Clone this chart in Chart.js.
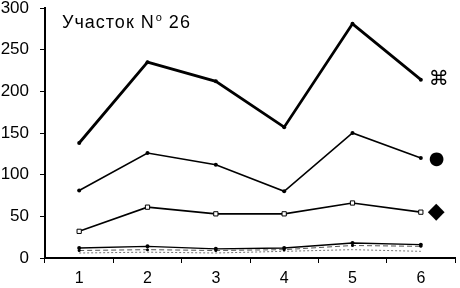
<!DOCTYPE html>
<html><head><meta charset="utf-8">
<script src="https://cdn.jsdelivr.net/npm/chart.js@4/dist/chart.umd.min.js"></script>
<style>html,body{margin:0;padding:0;background:#fff}#wrap{width:460px;height:288px}</style>
</head><body><div id="wrap"><canvas id="c" width="460" height="288"></canvas></div>
<script>
const categories = ['1','2','3','4','5','6'];
const yTicks = [0,50,100,150,200,250,300];
const series1 = [138,235,212,157,281,214];
const series2 = [81,126,112,80,150,120];
const series3 = [32,61,53,53,66,55];
const series4 = [12,14,11,12,18,16];
const series5 = [9,10,9,10,15,14];
const series6 = [6,7,6,8,10,8];
const endMarks = ['⌘','●','◆'];
const titleMain = 'Участок N';
const titleSup = 'o';
const titleNum = ' 26';

const endPlugin = {
  id:'endPlugin',
  afterDatasetsDraw(chart){
    const ctx = chart.ctx, xs = chart.scales.x, ys = chart.scales.y;
    ctx.save();
    ctx.fillStyle = '#000';
    ctx.textBaseline = 'middle';
    ctx.textAlign = 'left';
    const x = xs.getPixelForValue(5) + 8;
    ctx.font = '20px "DejaVu Sans"';
    ctx.fillText(endMarks[0], x, ys.getPixelForValue(series1[5]));
    ctx.font = '18px "DejaVu Sans"';
    ctx.fillText(endMarks[1], x, ys.getPixelForValue(series2[5]) + 1);
    ctx.font = '22px "DejaVu Sans"';
    ctx.fillText(endMarks[2], x - 1, ys.getPixelForValue(series3[5]));
    ctx.textBaseline = 'alphabetic';
    ctx.font = '18px "Liberation Sans"';
    ctx.letterSpacing = '1px';
    let tx = chart.chartArea.left + 17, ty = 28;
    ctx.fillText(titleMain, tx, ty);
    tx += ctx.measureText(titleMain).width;
    ctx.font = '11px "Liberation Sans"';
    ctx.fillText(titleSup, tx + 1, ty - 7);
    tx += ctx.measureText(titleSup).width + 1;
    ctx.font = '18px "Liberation Sans"';
    ctx.fillText(titleNum, tx, ty);
    ctx.restore();
  }
};

new Chart(document.getElementById('c'), {
  type:'line',
  data:{labels:categories, datasets:[
    {data:series1, borderColor:'#000', borderWidth:2.8, pointRadius:2, pointBackgroundColor:'#000', pointBorderWidth:0},
    {data:series2, borderColor:'#000', borderWidth:1.6, pointRadius:2, pointBackgroundColor:'#000', pointBorderWidth:0},
    {data:series3, borderColor:'#000', borderWidth:1.6, pointStyle:'rect', pointRadius:3, pointBackgroundColor:'#fff', pointBorderColor:'#000', pointBorderWidth:1},
    {data:series4, borderColor:'#000', borderWidth:1.4, pointRadius:2, pointBackgroundColor:'#000', pointBorderWidth:0},
    {data:series5, borderColor:'#555', borderWidth:1, borderDash:[5,3], pointRadius:1.5, pointBackgroundColor:'#000', pointBorderWidth:0},
    {data:series6, borderColor:'#777', borderWidth:1, borderDash:[2,2], pointRadius:0}
  ]},
  options:{
    responsive:false, animation:false,
    layout:{padding:{left:0,right:2,top:0,bottom:0}},
    plugins:{legend:{display:false}, tooltip:{enabled:false}},
    scales:{
      x:{offset:true,
        grid:{display:true, drawOnChartArea:false, drawTicks:true, tickLength:5, color:'#000', offset:true},
        border:{display:true, color:'#000', width:2},
        ticks:{color:'#000', font:{family:'Liberation Sans', size:16}, padding:6},
        afterFit(s){s.height = 30;}},
      y:{min:0, max:300, afterBuildTicks(s){s.ticks = yTicks.map(v=>({value:v}));},
        grid:{display:true, drawOnChartArea:false, drawTicks:true, tickLength:5, color:'#000'},
        border:{display:true, color:'#000', width:2},
        ticks:{color:'#000', font:{family:'Liberation Sans', size:17}, padding:11},
        afterFit(s){s.width = 45; s.paddingTop = 8; s.paddingBottom = 0;}}
    }
  },
  plugins:[endPlugin]
});
</script></body></html>
